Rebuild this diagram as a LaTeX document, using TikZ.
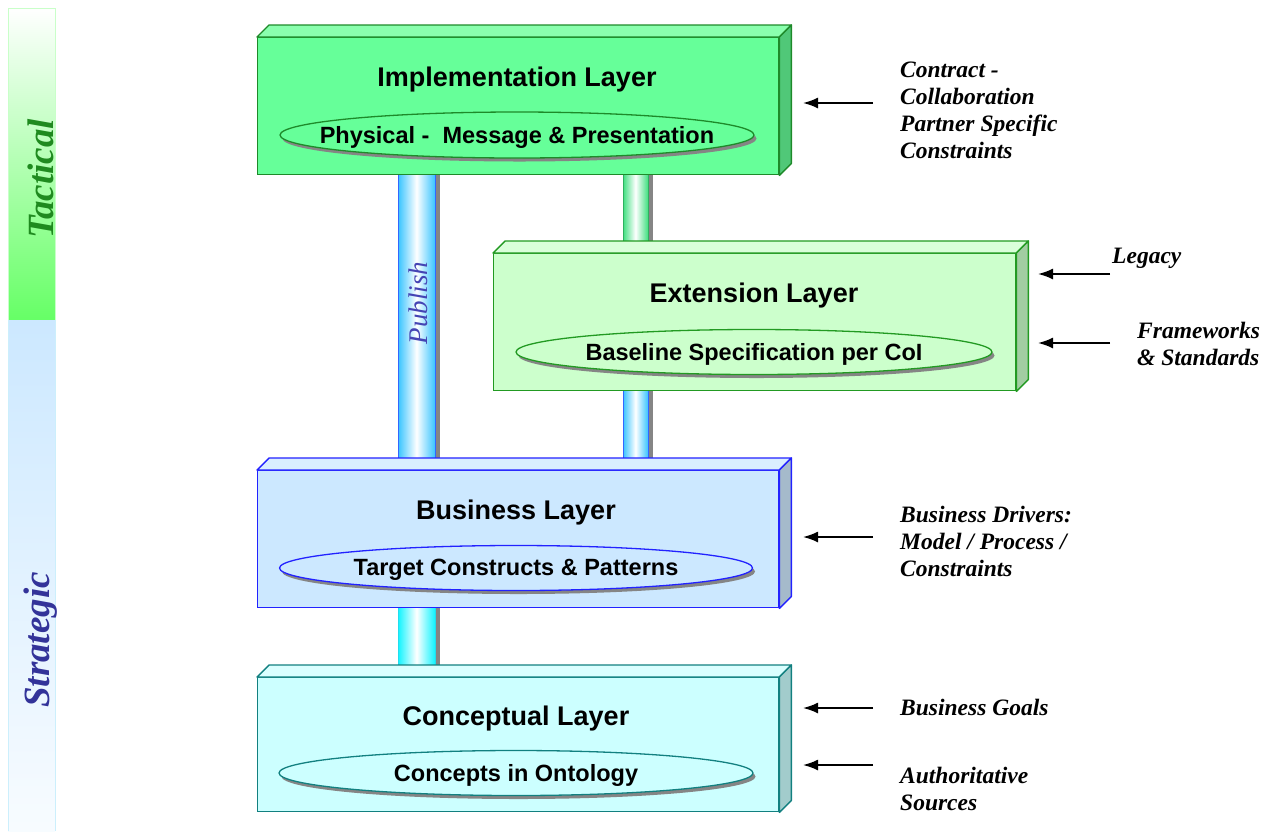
\documentclass[tikz,border=0pt]{standalone}
\usepackage{fontspec}
\setmainfont{Liberation Serif}
\setsansfont{Liberation Sans}
\usetikzlibrary{arrows.meta,shadows,shapes.geometric}

% layer colours: front face, top face, side face, outline
\definecolor{implfront}{HTML}{66FF99}
\definecolor{impltop}{HTML}{8AFFAE}
\definecolor{implside}{HTML}{50C878}
\definecolor{implline}{HTML}{1E8A2A}
\definecolor{extfront}{HTML}{CCFFCC}
\definecolor{exttop}{HTML}{DAFFDA}
\definecolor{extside}{HTML}{A2CDA2}
\definecolor{extline}{HTML}{229A22}
\definecolor{busfront}{HTML}{CCE8FF}
\definecolor{bustop}{HTML}{DAEEFF}
\definecolor{busside}{HTML}{A5BACB}
\definecolor{busline}{HTML}{2222FF}
\definecolor{conffront}{HTML}{CCFFFF}
\definecolor{conftop}{HTML}{DAFFFF}
\definecolor{confside}{HTML}{A2CCCC}
\definecolor{confline}{HTML}{128080}
% pillars and side bar
\definecolor{pilblue}{HTML}{38C4FF}
\definecolor{pilblueedge}{HTML}{3366FF}
\definecolor{pilgreen}{HTML}{40E080}
\definecolor{pilgreenedge}{HTML}{2EB060}
\definecolor{pilcyan}{HTML}{10F4FF}
\definecolor{pilcyanedge}{HTML}{22DDEE}
\definecolor{pilshadow}{HTML}{858585}
\definecolor{tactgreen}{HTML}{66FF66}
\definecolor{tacttext}{HTML}{1F8A1F}
\definecolor{stratblue}{HTML}{CCE8FF}
\definecolor{strattext}{HTML}{333399}
\definecolor{publishtext}{HTML}{4444B4}

\tikzset{
  layerbox/.style={rectangle, line width=1.4pt, inner sep=0pt, anchor=north west},
  layertitle/.style={font=\sffamily\bfseries\fontsize{27}{31}\selectfont, inner sep=0pt},
  layeroval/.style={ellipse, line width=1.3pt, inner sep=0pt,
    drop shadow={shadow xshift=2.5pt, shadow yshift=-3.5pt, fill=pilshadow, opacity=1}},
  ovaltext/.style={font=\sffamily\bfseries\fontsize{23.5}{27}\selectfont, inner sep=0pt},
  sidenote/.style={font=\bfseries\itshape\fontsize{23.5}{27}\selectfont, align=left,
    anchor=north west, inner sep=0pt},
  inarrow/.style={line width=1.8pt, -{Latex[length=15pt,width=11pt]}},
  sideword/.style={font=\bfseries\itshape\fontsize{37}{42}\selectfont, rotate=90},
}

% draws the top and right faces of a layer box
\newcommand\layerfaces[4]{% node, top colour, side colour, outline
  \filldraw[fill=#2, draw=#4, line width=1.4pt, line join=round]
    (#1.north west) -- ++(12,-12) -- ([shift={(12pt,12pt)}]#1.north east)
    -- (#1.north east) -- cycle;
  \filldraw[fill=#3, draw=#4, line width=1.4pt, line join=round]
    (#1.north east) -- ([shift={(12pt,12pt)}]#1.north east)
    -- ([shift={(12pt,12pt)}]#1.south east) -- (#1.south east) -- cycle;
}

% a vertical shaded pillar between two y levels
\newcommand\pillar[6]{% left x, right x, top y, bottom y, colour, edge colour
  \fill[pilshadow] (#2,#3) rectangle (#2+4.5,#4);
  \shade[left color=#5, right color=#5, middle color=white] (#1,#3) rectangle (#2,#4);
  \draw[#6, line width=1pt] (#1,#3) -- (#1,#4) (#2,#3) -- (#2,#4);
}

\begin{document}
\begin{tikzpicture}[x=1pt, y=-1pt]
\useasboundingbox (0,0) rectangle (1268,831);

% side bar
\shade[top color=white, bottom color=tactgreen] (8,8) rectangle (55,320);
\draw[tactgreen!35, line width=1pt] (8,320) -- (8,8) -- (55,8) -- (55,320);
\shade[top color=stratblue, bottom color=stratblue!15] (8,320) rectangle (55,831);
\draw[cyan!20, line width=1pt] (8,831) -- (8,320) (55,320) -- (55,831);
\node[sideword, text=tacttext] (tactical) at (41,179) {Tactical};
\node[sideword, text=strattext] (strategic) at (41,640) {Strategic};

% pillars
\pillar{398}{435}{170}{462}{pilblue}{pilblueedge}
\pillar{623}{648}{170}{245}{pilgreen}{pilgreenedge}
\pillar{623}{648}{386}{462}{pilblue}{pilblueedge}
\pillar{398}{435}{603}{666}{pilcyan}{pilcyanedge}
\node[font=\itshape\fontsize{27}{31}\selectfont, text=publishtext, rotate=90] (publish) at (418,303) {Publish};

% implementation layer
\node[layerbox, fill=implfront, draw=implline, minimum width=521pt, minimum height=137pt] (impl) at (257,37) {};
\layerfaces{impl}{impltop}{implside}{implline}
\node[layertitle] (implT) at (517,80) {Implementation Layer};
\node[layeroval, fill=implfront, draw=implline, minimum width=474pt, minimum height=46pt] (implE) at (517,135) {};
\node[ovaltext] (implL) at ([yshift=-2pt]implE.center) {Physical -\ \ Message \& Presentation};

% extension layer
\node[layerbox, fill=extfront, draw=extline, minimum width=522pt, minimum height=137pt] (ext) at (493,253) {};
\layerfaces{ext}{exttop}{extside}{extline}
\node[layertitle] (extT) at (754,296) {Extension Layer};
\node[layeroval, fill=extfront, draw=extline, minimum width=476pt, minimum height=45pt] (extE) at (754,352) {};
\node[ovaltext] (extL) at ([yshift=-2pt]extE.center) {Baseline Specification per CoI};

% business layer
\node[layerbox, fill=busfront, draw=busline, minimum width=521pt, minimum height=137pt] (bus) at (257,470) {};
\layerfaces{bus}{bustop}{busside}{busline}
\node[layertitle] (busT) at (516,513) {Business Layer};
\node[layeroval, fill=busfront, draw=busline, minimum width=473pt, minimum height=45pt] (busE) at (516,568) {};
\node[ovaltext] (busL) at ([yshift=-2pt]busE.center) {Target Constructs \& Patterns};

% conceptual layer
\node[layerbox, fill=conffront, draw=confline, minimum width=521pt, minimum height=134pt] (conf) at (257,677) {};
\layerfaces{conf}{conftop}{confside}{confline}
\node[layertitle] (confT) at (516,719) {Conceptual Layer};
\node[layeroval, fill=conffront, draw=confline, minimum width=474pt, minimum height=45pt] (confE) at (516,773) {};
\node[ovaltext] (confL) at ([yshift=-2pt]confE.center) {Concepts in Ontology};

% inputs on the right
\node[sidenote] (contract) at (900,62) {Contract -\\Collaboration\\Partner Specific\\Constraints};
\node[sidenote] (legacy) at (1112,248) {Legacy};
\node[sidenote] (frame) at (1137,322) {Frameworks\\\& Standards};
\node[sidenote] (drivers) at (900,506) {Business Drivers:\\Model / Process /\\Constraints};
\node[sidenote] (goals) at (900,699) {Business Goals};
\node[sidenote] (auth) at (900,767) {Authoritative\\Sources};

\coordinate (c1s) at (873,103); \coordinate (c1e) at (803,103);
\coordinate (c2s) at (1110,274); \coordinate (c2e) at (1038,274);
\coordinate (c3s) at (1110,343); \coordinate (c3e) at (1038,343);
\coordinate (c4s) at (873,537); \coordinate (c4e) at (803,537);
\coordinate (c5s) at (873,708); \coordinate (c5e) at (803,708);
\coordinate (c6s) at (873,765); \coordinate (c6e) at (803,765);
\foreach \k in {1,...,6} \draw[inarrow] (c\k s) -- (c\k e);
\end{tikzpicture}
\end{document}
